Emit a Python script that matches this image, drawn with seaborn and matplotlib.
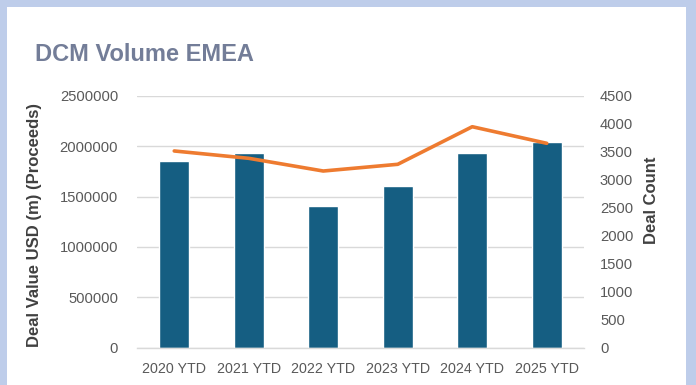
import numpy as np
import pandas as pd
import matplotlib
matplotlib.use('Agg')
import matplotlib.pyplot as plt
from matplotlib.patches import Rectangle
import seaborn as sns

# values
years = ["2020 YTD", "2021 YTD", "2022 YTD", "2023 YTD", "2024 YTD", "2025 YTD"]
deal_value = [1855000, 1930000, 1405000, 1607000, 1930000, 2041000]
deal_count = [3513, 3382, 3155, 3275, 3946, 3650]

left_ticks = [0, 500000, 1000000, 1500000, 2000000, 2500000]
right_ticks = [0, 500, 1000, 1500, 2000, 2500, 3000, 3500, 4000, 4500]

frame_col = "#BECDEA"
bar_col = "#155E82"
line_col = "#EE7B30"
tick_col = "#595959"
label_col = "#404040"
title_col = "#737D98"
fam = ["Liberation Sans", "DejaVu Sans"]

sns.set_theme(style="white")
plt.rcParams['font.family'] = fam

W, H = 696, 385
fig = plt.figure(figsize=(W / 100, H / 100), dpi=100, facecolor=frame_col)
# white card inside the light blue frame
fig.patches.append(Rectangle((7 / W, 0), (686 - 7) / W, (H - 7) / H,
                             transform=fig.transFigure, facecolor="white",
                             edgecolor="none", zorder=-10))

ax = fig.add_axes([137 / W, (H - 347.7) / H, (584 - 137) / W, (347.7 - 95.7) / H])
ax.set_facecolor("none")

df = pd.DataFrame({"year": years, "value": deal_value, "count": deal_count})
sns.barplot(data=df, x="year", y="value", color=bar_col, width=0.4,
            saturation=1, ax=ax, zorder=2)
ax.set_ylim(0, 2500000)
ax.set_yticks(left_ticks)
ax.set_yticklabels([str(t) for t in left_ticks])
ax.yaxis.grid(True, color="#D9D9D9", linewidth=1)
ax.set_axisbelow(True)
ax.set_xlabel("")
ax.set_ylabel("")
for s in ["top", "right", "left"]:
    ax.spines[s].set_visible(False)
ax.spines["bottom"].set_color("#D9D9D9")
ax.spines["bottom"].set_linewidth(1)
ax.tick_params(axis="y", length=0, pad=13.5, colors=tick_col, labelsize=10.6)
ax.tick_params(axis="x", length=0, pad=10, colors=tick_col, labelsize=10.3)

ax2 = ax.twinx()
sns.lineplot(x=np.arange(len(years)), y=deal_count, ax=ax2, color=line_col,
             linewidth=2.6)
ax2.set_ylim(0, 4500)
ax2.set_yticks(right_ticks)
ax2.set_yticklabels([str(t) for t in right_ticks])
ax2.set_ylabel("")
ax2.grid(False)
for s in ["top", "right", "left", "bottom"]:
    ax2.spines[s].set_visible(False)
ax2.tick_params(axis="y", length=0, pad=11.5, colors=tick_col, labelsize=10.6)
ax.set_xlim(-0.5, len(years) - 0.5)

fig.text(35 / W, (H - 61) / H, "DCM Volume EMEA", color=title_col,
         fontsize=17, fontweight="bold", va="baseline", ha="left")
fig.text(35 / W, (H - 225) / H, "Deal Value USD (m) (Proceeds)", rotation=90,
         ha="center", va="center", fontsize=12, fontweight="bold",
         color=label_col)
fig.text(651 / W, (H - 200) / H, "Deal Count", rotation=90,
         ha="center", va="center", fontsize=12, fontweight="bold",
         color=label_col)

fig.savefig("out.png", dpi=100, facecolor=frame_col)
